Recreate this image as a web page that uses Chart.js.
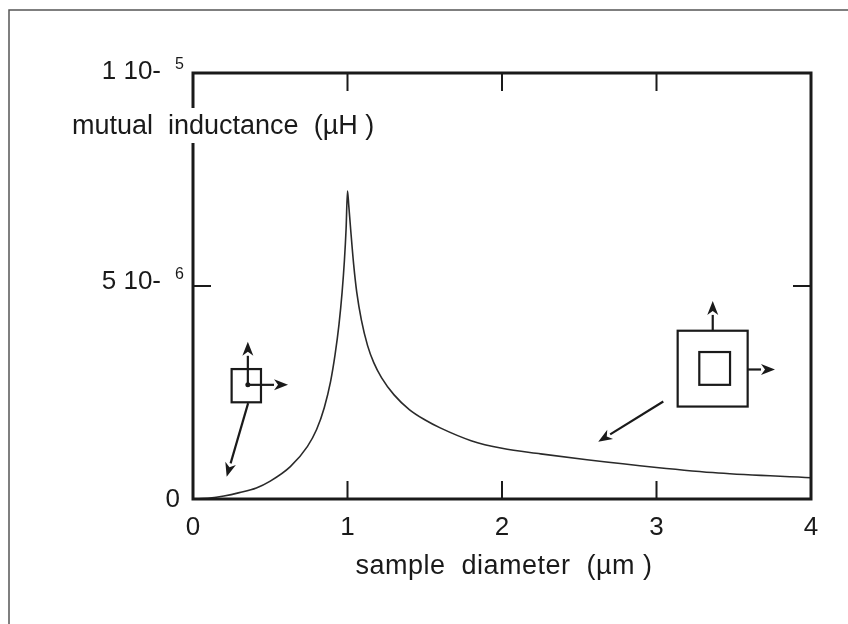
<!DOCTYPE html>
<html>
<head>
<meta charset="utf-8">
<script src="https://cdn.jsdelivr.net/npm/chart.js@4/dist/chart.umd.min.js"></script>
<style>
html,body{margin:0;padding:0;background:#fff;}
#wrap{width:848px;height:624px;position:relative;}
</style>
</head>
<body>
<div id="wrap"><canvas id="c" width="848" height="624"></canvas></div>
<script>
// ---- data ----
const diameter = [0, 0.11, 0.2, 0.3, 0.41, 0.5, 0.63, 0.74, 0.8, 0.85, 0.89, 0.92, 0.945, 0.965, 0.98, 0.991, 1.0,
                  1.008, 1.02, 1.04, 1.06, 1.09, 1.13, 1.17, 1.22, 1.3, 1.4, 1.5, 1.6, 1.8, 2.0, 2.25, 2.55, 3.0, 3.4, 4.0];
const inductance = [0, 0.02e-6, 0.07e-6, 0.15e-6, 0.26e-6, 0.42e-6, 0.76e-6, 1.23e-6, 1.63e-6, 2.15e-6, 2.75e-6, 3.4e-6, 4.1e-6, 4.85e-6, 5.6e-6, 6.35e-6, 7.23e-6,
                    6.9e-6, 6.35e-6, 5.5e-6, 4.85e-6, 4.2e-6, 3.6e-6, 3.2e-6, 2.85e-6, 2.45e-6, 2.1e-6, 1.86e-6, 1.67e-6, 1.37e-6, 1.19e-6, 1.06e-6, 0.92e-6, 0.74e-6, 0.61e-6, 0.5e-6];
const xTicks = [0, 1, 2, 3, 4];
const xTickLabels = ["0", "1", "2", "3", "4"];
const yTicks = [0, 5e-6, 1e-5];
const yTickMain = ["0", "5 10-", "1 10-"];
const yTickSup = ["", "6", "5"];
const xTitle = "sample  diameter  (\u00b5m )";
const yTitle = "mutual  inductance  (\u00b5H )";

// inset sketches, in data coordinates (x: µm, y: µH)
const smallBox = {x0: 0.25, x1: 0.44, y0: 2.27e-6, y1: 3.05e-6};
const smallDot = {x: 0.355, y: 2.68e-6};
const smallArrows = [
  {from: [0.355, 2.68e-6], to: [0.355, 3.69e-6]},
  {from: [0.355, 2.68e-6], to: [0.615, 2.68e-6]},
  {from: [0.357, 2.25e-6], to: [0.218, 0.52e-6]}
];
const bigOuter = {x0: 3.137, x1: 3.590, y0: 2.17e-6, y1: 3.95e-6};
const bigInner = {x0: 3.277, x1: 3.476, y0: 2.68e-6, y1: 3.45e-6};
const bigArrows = [
  {from: [3.364, 3.95e-6], to: [3.364, 4.65e-6]},
  {from: [3.590, 3.04e-6], to: [3.767, 3.04e-6]},
  {from: [3.044, 2.29e-6], to: [2.623, 1.345e-6]}
];

const INK = '#1a1a1a';
const FONT = '"Liberation Sans", Arial, Helvetica, sans-serif';

function arrow(ctx, x1, y1, x2, y2) {
  const a = Math.atan2(y2 - y1, x2 - x1);
  const hl = 14, hw = 5.5;
  const bx = x2 - hl * Math.cos(a), by = y2 - hl * Math.sin(a);
  ctx.beginPath();
  ctx.moveTo(x1, y1);
  ctx.lineTo(bx, by);
  ctx.stroke();
  ctx.beginPath();
  ctx.moveTo(x2, y2);
  ctx.lineTo(bx + hw * Math.sin(a), by - hw * Math.cos(a));
  ctx.lineTo(x2 - (hl - 4) * Math.cos(a), y2 - (hl - 4) * Math.sin(a));
  ctx.lineTo(bx - hw * Math.sin(a), by + hw * Math.cos(a));
  ctx.closePath();
  ctx.fill();
}

const decor = {
  id: 'decor',
  beforeDraw(chart) {
    const ctx = chart.ctx;
    ctx.save();
    ctx.fillStyle = '#fff';
    ctx.fillRect(0, 0, chart.width, chart.height);
    ctx.strokeStyle = '#555';
    ctx.lineWidth = 1.5;
    ctx.beginPath();
    ctx.moveTo(9, 624);
    ctx.lineTo(9, 10);
    ctx.lineTo(848, 10);
    ctx.stroke();
    ctx.restore();
  },
  afterDatasetsDraw(chart) {
    const ctx = chart.ctx;
    const xs = chart.scales.x, ys = chart.scales.y;
    const ca = chart.chartArea;
    const X = v => xs.getPixelForValue(v), Y = v => ys.getPixelForValue(v);
    ctx.save();
    ctx.strokeStyle = INK;
    ctx.lineWidth = 3;
    ctx.strokeRect(ca.left, ca.top, ca.right - ca.left, ca.bottom - ca.top);
    ctx.lineWidth = 2;
    const tl = 18;
    xTicks.forEach(v => {
      if (v === xs.min || v === xs.max) return;
      const px = X(v);
      ctx.beginPath();
      ctx.moveTo(px, ca.bottom); ctx.lineTo(px, ca.bottom - tl);
      ctx.moveTo(px, ca.top); ctx.lineTo(px, ca.top + tl);
      ctx.stroke();
    });
    yTicks.forEach(v => {
      if (v === ys.min || v === ys.max) return;
      const py = Y(v);
      ctx.beginPath();
      ctx.moveTo(ca.left, py); ctx.lineTo(ca.left + tl, py);
      ctx.moveTo(ca.right, py); ctx.lineTo(ca.right - tl, py);
      ctx.stroke();
    });
    // tick labels
    ctx.fillStyle = INK;
    ctx.textBaseline = 'middle';
    ctx.textAlign = 'center';
    ctx.font = '26px ' + FONT;
    xTicks.forEach((v, i) => ctx.fillText(xTickLabels[i], X(v), ca.bottom + 29));
    const yShift = [1, -4, -1];
    yTicks.forEach((v, i) => {
      const py = Y(v) + yShift[i];
      ctx.font = '26px ' + FONT;
      ctx.textAlign = 'right';
      if (yTickSup[i]) {
        ctx.fillText(yTickMain[i], 161, py);
        ctx.font = '16px ' + FONT;
        ctx.textAlign = 'left';
        ctx.fillText(yTickSup[i], 175, py - 7);
      } else {
        ctx.fillText(yTickMain[i], 180, py);
      }
    });
    // axis titles
    ctx.font = '27px ' + FONT;
    ctx.textAlign = 'left';
    ctx.textBaseline = 'alphabetic';
    const w = ctx.measureText(yTitle).width;
    ctx.fillStyle = '#fff';
    ctx.fillRect(68, 108, w + 8, 35);
    ctx.fillStyle = INK;
    ctx.fillText(yTitle, 72, 134);
    ctx.textAlign = 'center';
    ctx.letterSpacing = '0.5px';
    ctx.fillText(xTitle, 504, 574);
    ctx.letterSpacing = '0px';
    // insets
    ctx.strokeStyle = INK;
    ctx.fillStyle = INK;
    ctx.lineWidth = 2.2;
    const box = b => ctx.strokeRect(X(b.x0), Y(b.y1), X(b.x1) - X(b.x0), Y(b.y0) - Y(b.y1));
    box(smallBox); box(bigOuter); box(bigInner);
    ctx.beginPath();
    ctx.arc(X(smallDot.x), Y(smallDot.y), 2.5, 0, Math.PI * 2);
    ctx.fill();
    smallArrows.concat(bigArrows).forEach(a =>
      arrow(ctx, X(a.from[0]), Y(a.from[1]), X(a.to[0]), Y(a.to[1])));
    ctx.restore();
  }
};

new Chart(document.getElementById('c'), {
  type: 'line',
  data: {
    datasets: [{
      data: diameter.map((d, i) => ({x: d, y: inductance[i]})),
      borderColor: '#2a2a2a',
      borderWidth: 1.6,
      pointRadius: 0,
      fill: false,
      cubicInterpolationMode: 'monotone'
    }]
  },
  options: {
    responsive: false,
    animation: false,
    devicePixelRatio: 1,
    layout: {padding: {left: 193, top: 73, right: 37, bottom: 125}},
    plugins: {legend: {display: false}, tooltip: {enabled: false}},
    scales: {
      x: {type: 'linear', min: 0, max: 4, display: false},
      y: {type: 'linear', min: 0, max: 1e-5, display: false}
    }
  },
  plugins: [decor]
});
</script>
</body>
</html>
